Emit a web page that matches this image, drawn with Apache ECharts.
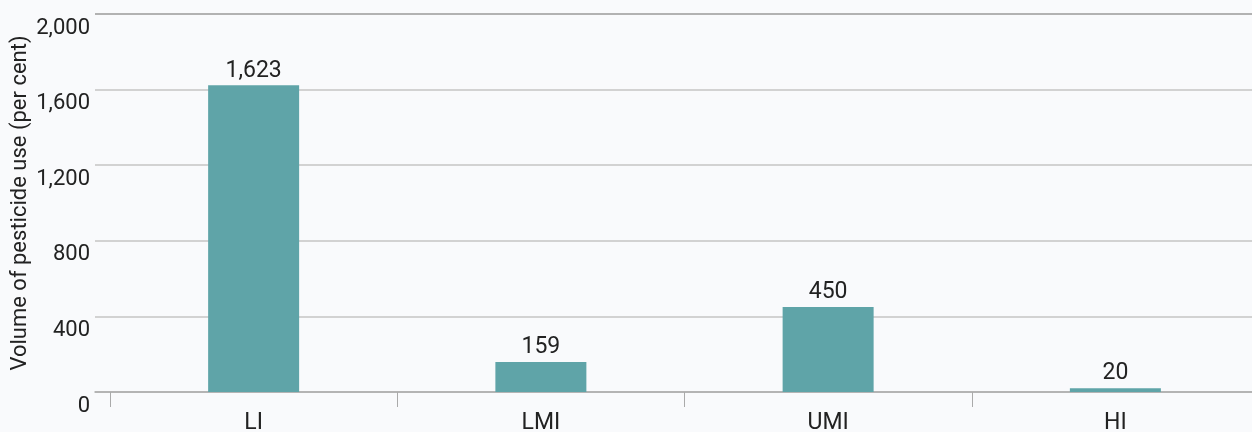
<!DOCTYPE html>
<html>
<head>
<meta charset="utf-8">
<script src="https://cdn.jsdelivr.net/npm/echarts@6/dist/echarts.min.js"></script>
<style>
  html, body { margin: 0; padding: 0; background: #f9fafc; }
  #main { width: 1252px; height: 432px; }
</style>
</head>
<body>
<div id="main"></div>
<script>
const categories = ['LI', 'LMI', 'UMI', 'HI'];
const pesticideUse = [1623, 159, 450, 20];
const yTicks = [0, 400, 800, 1200, 1600, 2000];

const chart = echarts.init(document.getElementById('main'));
const font = 'Roboto, "Roboto Condensed", sans-serif';

const option = {
  backgroundColor: '#f9fafc',
  textStyle: { fontFamily: font },
  grid: [
    // bars (category range runs a little past the right edge)
    { left: 110, width: 1149, top: 14, bottom: 40, outerBoundsMode: 'none', containLabel: false },
    // gridlines + y labels
    { left: 95, right: 0, top: 14, bottom: 40, outerBoundsMode: 'none', containLabel: false }
  ],
  xAxis: [
    {
      type: 'category',
      gridIndex: 0,
      data: categories,
      axisLine: { show: false },
      axisTick: { show: true, length: 15, lineStyle: { color: '#aaaaaa', width: 1 } },
      axisLabel: { color: '#222', fontSize: 23, fontFamily: font, margin: 20 }
    },
    {
      type: 'category',
      gridIndex: 1,
      data: categories,
      axisLine: { show: true, lineStyle: { color: '#aaaaaa', width: 1.5 } },
      axisTick: { show: false },
      axisLabel: { show: false }
    }
  ],
  yAxis: [
    {
      type: 'value',
      gridIndex: 0,
      min: yTicks[0],
      max: yTicks[yTicks.length - 1],
      interval: 400,
      show: false
    },
    {
      type: 'value',
      gridIndex: 1,
      min: yTicks[0],
      max: yTicks[yTicks.length - 1],
      interval: 400,
      name: 'Volume of pesticide use (per cent)',
      nameLocation: 'middle',
      nameGap: 64,
      nameMoveOverlap: false,
      nameTextStyle: { color: '#222', fontSize: 22, fontFamily: font },
      axisLine: { show: false },
      axisTick: { show: false },
      axisLabel: {
        color: '#222',
        fontSize: 22,
        fontFamily: font,
        margin: 5,
        verticalAlign: 'top',
        padding: [3, 0, 0, 0],
        formatter: v => v.toLocaleString('en-US')
      },
      splitLine: {
        lineStyle: {
          color: ['#c4c4c4', '#c4c4c4', '#c4c4c4', '#c4c4c4', '#c4c4c4', '#9a9a9a'],
          width: 1.5
        }
      }
    }
  ],
  series: [
    {
      type: 'bar',
      xAxisIndex: 0,
      yAxisIndex: 0,
      data: pesticideUse,
      barWidth: 91,
      itemStyle: { color: '#5fa4a8' },
      label: {
        show: true,
        position: 'top',
        distance: 3,
        color: '#222',
        fontSize: 23,
        fontFamily: font,
        formatter: p => p.value.toLocaleString('en-US')
      }
    }
  ]
};
option && chart.setOption(option);
</script>
</body>
</html>
